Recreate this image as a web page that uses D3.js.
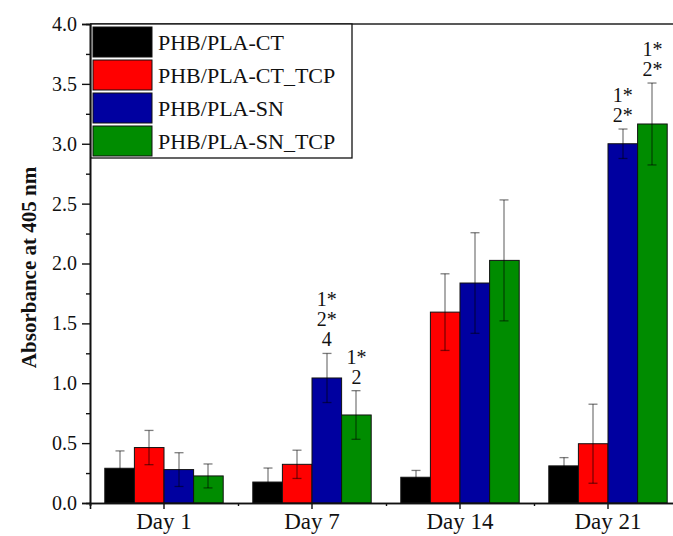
<!DOCTYPE html>
<html>
<head>
<meta charset="utf-8">
<script src="https://cdn.jsdelivr.net/npm/d3@7"></script>
<style>
  body { margin: 0; background: #fff; }
</style>
</head>
<body>
<svg id="chart"></svg>
<script>
const days = ["Day 1", "Day 7", "Day 14", "Day 21"];
const groups = ["PHB/PLA-CT", "PHB/PLA-CT_TCP", "PHB/PLA-SN", "PHB/PLA-SN_TCP"];
const colors = ["#000000", "#ff0000", "#0000a0", "#008c00"];

// absorbance per group, one value per day
const ctValues = [0.29, 0.175, 0.215, 0.31];
const ctErrors = [0.145, 0.117, 0.057, 0.069];
const ctTcpValues = [0.463, 0.323, 1.594, 0.495];
const ctTcpErrors = [0.143, 0.118, 0.32, 0.33];
const snValues = [0.279, 1.044, 1.837, 3.0];
const snErrors = [0.141, 0.205, 0.42, 0.123];
const snTcpValues = [0.226, 0.735, 2.026, 3.165];
const snTcpErrors = [0.1, 0.203, 0.505, 0.342];

const yTicks = [0, 0.5, 1.0, 1.5, 2.0, 2.5, 3.0, 3.5, 4.0];

// significance marks above some bars
const noteDay = ["Day 7", "Day 7", "Day 21", "Day 21"];
const noteGroup = ["PHB/PLA-SN", "PHB/PLA-SN_TCP", "PHB/PLA-SN", "PHB/PLA-SN_TCP"];
const noteText = [["1*", "2*", "4"], ["1*", "2"], ["1*", "2*"], ["1*", "2*"]];

const values = [ctValues, ctTcpValues, snValues, snTcpValues];
const errors = [ctErrors, ctTcpErrors, snErrors, snTcpErrors];

const serif = "'Liberation Serif', 'DejaVu Serif', 'Times New Roman', serif";
const width = 673, height = 536;
const svg = d3.select("#chart").attr("width", width).attr("height", height)
    .style("font-family", serif);

const x = d3.scaleBand().domain(days).range([90, 682]).paddingInner(0).paddingOuter(0);
const xInner = d3.scaleBand().domain(groups)
    .range([x.bandwidth() * 0.1, x.bandwidth() * 0.9]).paddingInner(0).paddingOuter(0);
const y = d3.scaleLinear().domain([0, 4]).range([503, 24]);

// bars
const bars = [];
groups.forEach((g, gi) => {
    days.forEach((d, di) => {
        bars.push({day: d, group: g, gi: gi, v: values[gi][di], e: errors[gi][di]});
    });
});

svg.append("g").selectAll("rect")
    .data(bars)
    .enter()
    .append("rect")
    .attr("x", d => x(d.day) + xInner(d.group))
    .attr("y", d => y(d.v))
    .attr("width", xInner.bandwidth())
    .attr("height", d => y(0) - y(d.v))
    .style("fill", d => colors[d.gi])
    .style("stroke", "#111")
    .style("stroke-width", "1px");

// error bars
const err = svg.append("g").selectAll("g")
    .data(bars)
    .enter()
    .append("g")
    .attr("transform", d => `translate(${Math.round(x(d.day) + xInner(d.group) + xInner.bandwidth() / 2)} 0)`)
    .style("stroke", "#000")
    .style("stroke-opacity", 0.5)
    .style("stroke-width", "1.3px");
err.append("line")
    .attr("x1", 0).attr("x2", 0)
    .attr("y1", d => y(d.v + d.e)).attr("y2", d => y(d.v - d.e));
err.append("line")
    .attr("x1", -4.5).attr("x2", 4.5)
    .attr("y1", d => y(d.v + d.e)).attr("y2", d => y(d.v + d.e));
err.append("line")
    .attr("x1", -4.5).attr("x2", 4.5)
    .attr("y1", d => y(d.v - d.e)).attr("y2", d => y(d.v - d.e));

// notes
noteText.forEach((lines, i) => {
    const gi = groups.indexOf(noteGroup[i]);
    const di = days.indexOf(noteDay[i]);
    const top = y(values[gi][di] + errors[gi][di]);
    const cx = x(noteDay[i]) + xInner(noteGroup[i]) + xInner.bandwidth() / 2;
    svg.append("g").selectAll("text")
        .data(lines)
        .enter()
        .append("text")
        .attr("x", cx)
        .attr("y", (t, j) => top - 7 - (lines.length - 1 - j) * 20)
        .attr("text-anchor", "middle")
        .style("font-family", serif)
        .style("font-size", "20px")
        .style("fill", "#111")
        .text(t => t);
});

// y axis
const yAxis = svg.append("g")
    .attr("transform", "translate(90 0)")
    .call(d3.axisLeft(y).tickValues(yTicks).tickFormat(d3.format(".1f")).tickSize(8).tickPadding(5));
yAxis.selectAll("text").style("font-size", "20px");
svg.append("g")
    .attr("transform", "translate(90 0)")
    .call(d3.axisLeft(y).tickValues(d3.range(0.25, 4, 0.5)).tickSize(4).tickFormat(""));

// x axis
const xAxis = svg.append("g")
    .attr("transform", "translate(0 503)")
    .call(d3.axisBottom(x).tickSize(6).tickPadding(4));
xAxis.selectAll("text").style("font-size", "23px");
svg.append("g")
    .attr("transform", "translate(0 503)")
    .call(d3.axisBottom(d3.scaleLinear().domain([0, 4]).range([90, 682])).tickValues([0, 1, 2, 3]).tickSize(3).tickFormat(""));

svg.selectAll(".tick text").style("font-family", serif).style("fill", "#111");
svg.selectAll(".domain").style("stroke", "#111").style("stroke-width", "1.6px");
svg.selectAll(".tick line").style("stroke", "#111").style("stroke-width", "1.4px");

// top frame line
svg.append("line")
    .attr("x1", 90).attr("x2", width)
    .attr("y1", y(4)).attr("y2", y(4))
    .style("stroke", "#222").style("stroke-width", "1.6px");

// y title
svg.append("text")
    .attr("transform", `translate(36 ${(y(0) + y(4)) / 2 + 4}) rotate(-90)`)
    .attr("text-anchor", "middle")
    .style("font-family", serif)
    .style("font-size", "21px")
    .style("font-weight", "bold")
    .style("fill", "#111")
    .text("Absorbance at 405 nm");

// legend
const legend = svg.append("g");
legend.append("rect")
    .attr("x", 91).attr("y", 24)
    .attr("width", 261).attr("height", 134)
    .style("fill", "#fff").style("stroke", "#111").style("stroke-width", "1.3px");
const item = legend.selectAll(".item")
    .data(groups)
    .enter()
    .append("g")
    .attr("class", "item")
    .attr("transform", (d, i) => `translate(93 ${27 + i * 33})`);
item.append("rect")
    .attr("width", 59).attr("height", 30)
    .style("fill", (d, i) => colors[i])
    .style("stroke", "#111").style("stroke-width", "1px");
item.append("text")
    .attr("x", 65).attr("y", 15)
    .attr("dy", "0.35em")
    .style("font-family", serif)
    .style("font-size", "22px")
    .style("fill", "#111")
    .text(d => d);
</script>
</body>
</html>
